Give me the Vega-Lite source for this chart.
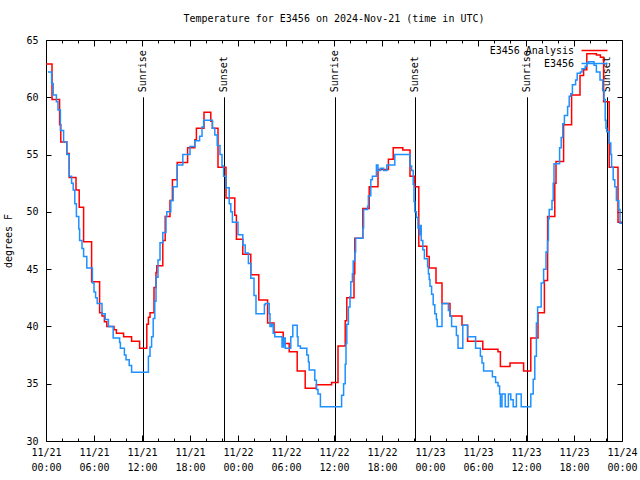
{
  "$schema": "https://vega.github.io/schema/vega-lite/v6.json",
  "width": 576,
  "height": 401,
  "autosize": "none",
  "padding": {"left": 46, "top": 40, "right": 18, "bottom": 39},
  "background": "white",
  "title": {"text": "Temperature for E3456 on 2024-Nov-21 (time in UTC)", "font": "DejaVu Sans Mono", "fontSize": 10, "fontWeight": "normal", "color": "black", "anchor": "middle", "offset": 11},
  "config": {
    "font": "DejaVu Sans Mono",
    "view": {"stroke": "black", "strokeWidth": 1},
    "axis": {"domain": false, "grid": false, "ticks": true, "tickColor": "black", "tickSize": -5, "labelFont": "DejaVu Sans Mono", "labelFontSize": 10, "labelColor": "black", "titleFont": "DejaVu Sans Mono", "titleFontSize": 10, "titleFontWeight": "normal", "titleColor": "black", "labelFlush": false, "labelOverlap": false, "labelBound": false}
  },
  "datasets": {
    "sun": [
      {"event": "Sunrise", "hour": 12.125},
      {"event": "Sunset", "hour": 22.25},
      {"event": "Sunrise", "hour": 36.125},
      {"event": "Sunset", "hour": 46.125},
      {"event": "Sunrise", "hour": 60.125},
      {"event": "Sunset", "hour": 70.125}
    ],
    "temps": [
      {"series": "E3456 Analysis", "hour": 0, "temp": 62.9},
      {"series": "E3456 Analysis", "hour": 0.75, "temp": 59.8},
      {"series": "E3456 Analysis", "hour": 1.7, "temp": 57.6},
      {"series": "E3456 Analysis", "hour": 1.85, "temp": 56.1},
      {"series": "E3456 Analysis", "hour": 2.6, "temp": 55.1},
      {"series": "E3456 Analysis", "hour": 2.9, "temp": 53.0},
      {"series": "E3456 Analysis", "hour": 3.75, "temp": 51.9},
      {"series": "E3456 Analysis", "hour": 4.15, "temp": 50.4},
      {"series": "E3456 Analysis", "hour": 4.7, "temp": 47.4},
      {"series": "E3456 Analysis", "hour": 5.7, "temp": 43.9},
      {"series": "E3456 Analysis", "hour": 6.7, "temp": 41.2},
      {"series": "E3456 Analysis", "hour": 7.0, "temp": 40.9},
      {"series": "E3456 Analysis", "hour": 7.3, "temp": 40.4},
      {"series": "E3456 Analysis", "hour": 7.6, "temp": 40.0},
      {"series": "E3456 Analysis", "hour": 8.5, "temp": 39.7},
      {"series": "E3456 Analysis", "hour": 8.8, "temp": 39.4},
      {"series": "E3456 Analysis", "hour": 9.7, "temp": 39.1},
      {"series": "E3456 Analysis", "hour": 10.7, "temp": 38.7},
      {"series": "E3456 Analysis", "hour": 11.7, "temp": 38.1},
      {"series": "E3456 Analysis", "hour": 12.6, "temp": 40.2},
      {"series": "E3456 Analysis", "hour": 12.8, "temp": 40.8},
      {"series": "E3456 Analysis", "hour": 13.0, "temp": 41.2},
      {"series": "E3456 Analysis", "hour": 13.5, "temp": 43.4},
      {"series": "E3456 Analysis", "hour": 13.75, "temp": 44.7},
      {"series": "E3456 Analysis", "hour": 13.85, "temp": 45.3},
      {"series": "E3456 Analysis", "hour": 14.6, "temp": 47.5},
      {"series": "E3456 Analysis", "hour": 14.9, "temp": 49.6},
      {"series": "E3456 Analysis", "hour": 15.5, "temp": 51.0},
      {"series": "E3456 Analysis", "hour": 15.8, "temp": 52.8},
      {"series": "E3456 Analysis", "hour": 16.4, "temp": 54.3},
      {"series": "E3456 Analysis", "hour": 17.7, "temp": 55.6},
      {"series": "E3456 Analysis", "hour": 18.6, "temp": 56.3},
      {"series": "E3456 Analysis", "hour": 18.8, "temp": 57.3},
      {"series": "E3456 Analysis", "hour": 19.75, "temp": 58.7},
      {"series": "E3456 Analysis", "hour": 20.6, "temp": 57.9},
      {"series": "E3456 Analysis", "hour": 20.8, "temp": 57.3},
      {"series": "E3456 Analysis", "hour": 21.5, "temp": 53.9},
      {"series": "E3456 Analysis", "hour": 22.5, "temp": 51.2},
      {"series": "E3456 Analysis", "hour": 23.6, "temp": 49.7},
      {"series": "E3456 Analysis", "hour": 23.8, "temp": 47.6},
      {"series": "E3456 Analysis", "hour": 24.6, "temp": 46.3},
      {"series": "E3456 Analysis", "hour": 25.6, "temp": 44.5},
      {"series": "E3456 Analysis", "hour": 26.6, "temp": 42.3},
      {"series": "E3456 Analysis", "hour": 27.7, "temp": 40.3},
      {"series": "E3456 Analysis", "hour": 28.5, "temp": 39.5},
      {"series": "E3456 Analysis", "hour": 29.65, "temp": 38.5},
      {"series": "E3456 Analysis", "hour": 30.4, "temp": 37.8},
      {"series": "E3456 Analysis", "hour": 31.4, "temp": 36.1},
      {"series": "E3456 Analysis", "hour": 32.4, "temp": 34.6},
      {"series": "E3456 Analysis", "hour": 33.8, "temp": 34.9},
      {"series": "E3456 Analysis", "hour": 35.7, "temp": 35.1},
      {"series": "E3456 Analysis", "hour": 36.5, "temp": 38.3},
      {"series": "E3456 Analysis", "hour": 37.4, "temp": 40.5},
      {"series": "E3456 Analysis", "hour": 37.6, "temp": 42.5},
      {"series": "E3456 Analysis", "hour": 38.5, "temp": 44.6},
      {"series": "E3456 Analysis", "hour": 38.6, "temp": 47.7},
      {"series": "E3456 Analysis", "hour": 39.6, "temp": 50.3},
      {"series": "E3456 Analysis", "hour": 40.4, "temp": 52.2},
      {"series": "E3456 Analysis", "hour": 41.5, "temp": 53.7},
      {"series": "E3456 Analysis", "hour": 42.8, "temp": 54.6},
      {"series": "E3456 Analysis", "hour": 43.4, "temp": 55.6},
      {"series": "E3456 Analysis", "hour": 44.6, "temp": 55.4},
      {"series": "E3456 Analysis", "hour": 45.5, "temp": 53.1},
      {"series": "E3456 Analysis", "hour": 46.1, "temp": 52.2},
      {"series": "E3456 Analysis", "hour": 46.6, "temp": 47.0},
      {"series": "E3456 Analysis", "hour": 47.6, "temp": 46.1},
      {"series": "E3456 Analysis", "hour": 47.9, "temp": 45.1},
      {"series": "E3456 Analysis", "hour": 48.75, "temp": 43.8},
      {"series": "E3456 Analysis", "hour": 49.5, "temp": 42.0},
      {"series": "E3456 Analysis", "hour": 50.5, "temp": 40.9},
      {"series": "E3456 Analysis", "hour": 52.0, "temp": 40.1},
      {"series": "E3456 Analysis", "hour": 52.7, "temp": 38.7},
      {"series": "E3456 Analysis", "hour": 54.6, "temp": 38.0},
      {"series": "E3456 Analysis", "hour": 56.5, "temp": 37.8},
      {"series": "E3456 Analysis", "hour": 56.8, "temp": 36.5},
      {"series": "E3456 Analysis", "hour": 58.0, "temp": 36.8},
      {"series": "E3456 Analysis", "hour": 59.7, "temp": 36.1},
      {"series": "E3456 Analysis", "hour": 60.6, "temp": 39.0},
      {"series": "E3456 Analysis", "hour": 61.5, "temp": 41.2},
      {"series": "E3456 Analysis", "hour": 62.3, "temp": 44.0},
      {"series": "E3456 Analysis", "hour": 62.7, "temp": 49.6},
      {"series": "E3456 Analysis", "hour": 63.6, "temp": 52.5},
      {"series": "E3456 Analysis", "hour": 63.75, "temp": 54.4},
      {"series": "E3456 Analysis", "hour": 64.7, "temp": 57.6},
      {"series": "E3456 Analysis", "hour": 65.7, "temp": 60.2},
      {"series": "E3456 Analysis", "hour": 66.75, "temp": 61.9},
      {"series": "E3456 Analysis", "hour": 67.2, "temp": 62.4},
      {"series": "E3456 Analysis", "hour": 67.6, "temp": 63.8},
      {"series": "E3456 Analysis", "hour": 68.8, "temp": 63.7},
      {"series": "E3456 Analysis", "hour": 69.3, "temp": 63.5},
      {"series": "E3456 Analysis", "hour": 69.7, "temp": 59.6},
      {"series": "E3456 Analysis", "hour": 70.4, "temp": 53.9},
      {"series": "E3456 Analysis", "hour": 71.5, "temp": 49.1},
      {"series": "E3456 Analysis", "hour": 72, "temp": 49.1},
      {"series": "E3456", "hour": 0.25, "temp": 62.2},
      {"series": "E3456", "hour": 0.7, "temp": 61.2},
      {"series": "E3456", "hour": 0.9, "temp": 60.2},
      {"series": "E3456", "hour": 1.3, "temp": 59.6},
      {"series": "E3456", "hour": 1.5, "temp": 58.9},
      {"series": "E3456", "hour": 1.8, "temp": 57.1},
      {"series": "E3456", "hour": 2.2, "temp": 56.1},
      {"series": "E3456", "hour": 2.6, "temp": 55.0},
      {"series": "E3456", "hour": 2.9, "temp": 53.1},
      {"series": "E3456", "hour": 3.2, "temp": 52.5},
      {"series": "E3456", "hour": 3.4, "temp": 51.9},
      {"series": "E3456", "hour": 3.6, "temp": 50.7},
      {"series": "E3456", "hour": 3.8, "temp": 49.6},
      {"series": "E3456", "hour": 4.1, "temp": 48.5},
      {"series": "E3456", "hour": 4.2, "temp": 47.5},
      {"series": "E3456", "hour": 4.5, "temp": 46.8},
      {"series": "E3456", "hour": 4.7, "temp": 46.1},
      {"series": "E3456", "hour": 5.1, "temp": 45.1},
      {"series": "E3456", "hour": 5.8, "temp": 43.8},
      {"series": "E3456", "hour": 6.0, "temp": 43.0},
      {"series": "E3456", "hour": 6.2, "temp": 42.5},
      {"series": "E3456", "hour": 6.4, "temp": 42.0},
      {"series": "E3456", "hour": 7.0, "temp": 41.1},
      {"series": "E3456", "hour": 7.4, "temp": 40.6},
      {"series": "E3456", "hour": 7.8, "temp": 40.0},
      {"series": "E3456", "hour": 8.4, "temp": 39.0},
      {"series": "E3456", "hour": 9.2, "temp": 38.6},
      {"series": "E3456", "hour": 9.3, "temp": 38.1},
      {"series": "E3456", "hour": 9.8, "temp": 37.5},
      {"series": "E3456", "hour": 10.0, "temp": 37.1},
      {"series": "E3456", "hour": 10.4, "temp": 36.6},
      {"series": "E3456", "hour": 10.7, "temp": 36.0},
      {"series": "E3456", "hour": 12.8, "temp": 37.4},
      {"series": "E3456", "hour": 13.0, "temp": 38.2},
      {"series": "E3456", "hour": 13.2, "temp": 39.1},
      {"series": "E3456", "hour": 13.4, "temp": 40.7},
      {"series": "E3456", "hour": 13.6, "temp": 42.2},
      {"series": "E3456", "hour": 13.75, "temp": 44.3},
      {"series": "E3456", "hour": 14.0, "temp": 45.8},
      {"series": "E3456", "hour": 14.25, "temp": 47.3},
      {"series": "E3456", "hour": 14.6, "temp": 48.2},
      {"series": "E3456", "hour": 15.0, "temp": 49.6},
      {"series": "E3456", "hour": 15.1, "temp": 50.0},
      {"series": "E3456", "hour": 15.6, "temp": 51.0},
      {"series": "E3456", "hour": 15.9, "temp": 52.2},
      {"series": "E3456", "hour": 16.4, "temp": 54.1},
      {"series": "E3456", "hour": 17.1, "temp": 55.0},
      {"series": "E3456", "hour": 18.0, "temp": 55.7},
      {"series": "E3456", "hour": 18.6, "temp": 56.2},
      {"series": "E3456", "hour": 19.2, "temp": 56.6},
      {"series": "E3456", "hour": 19.5, "temp": 57.4},
      {"series": "E3456", "hour": 19.7, "temp": 58.0},
      {"series": "E3456", "hour": 20.8, "temp": 57.3},
      {"series": "E3456", "hour": 21.1, "temp": 56.7},
      {"series": "E3456", "hour": 21.4, "temp": 55.8},
      {"series": "E3456", "hour": 21.75, "temp": 55.0},
      {"series": "E3456", "hour": 22.0, "temp": 54.0},
      {"series": "E3456", "hour": 22.2, "temp": 53.1},
      {"series": "E3456", "hour": 22.5, "temp": 52.1},
      {"series": "E3456", "hour": 22.9, "temp": 50.7},
      {"series": "E3456", "hour": 23.1, "temp": 50.0},
      {"series": "E3456", "hour": 23.3, "temp": 49.1},
      {"series": "E3456", "hour": 24.0, "temp": 48.0},
      {"series": "E3456", "hour": 24.6, "temp": 47.1},
      {"series": "E3456", "hour": 24.9, "temp": 46.4},
      {"series": "E3456", "hour": 25.3, "temp": 45.5},
      {"series": "E3456", "hour": 25.6, "temp": 44.2},
      {"series": "E3456", "hour": 26.0, "temp": 42.7},
      {"series": "E3456", "hour": 26.25, "temp": 41.1},
      {"series": "E3456", "hour": 27.3, "temp": 41.9},
      {"series": "E3456", "hour": 27.4, "temp": 42.0},
      {"series": "E3456", "hour": 27.9, "temp": 41.1},
      {"series": "E3456", "hour": 28.0, "temp": 40.0},
      {"series": "E3456", "hour": 28.2, "temp": 40.2},
      {"series": "E3456", "hour": 28.4, "temp": 39.4},
      {"series": "E3456", "hour": 28.6, "temp": 39.1},
      {"series": "E3456", "hour": 29.5, "temp": 38.2},
      {"series": "E3456", "hour": 29.7, "temp": 39.0},
      {"series": "E3456", "hour": 29.9, "temp": 38.1},
      {"series": "E3456", "hour": 30.6, "temp": 39.1},
      {"series": "E3456", "hour": 30.85, "temp": 40.1},
      {"series": "E3456", "hour": 31.4, "temp": 39.1},
      {"series": "E3456", "hour": 31.5, "temp": 38.3},
      {"series": "E3456", "hour": 31.8, "temp": 38.1},
      {"series": "E3456", "hour": 32.6, "temp": 37.5},
      {"series": "E3456", "hour": 32.8, "temp": 36.9},
      {"series": "E3456", "hour": 32.9, "temp": 36.2},
      {"series": "E3456", "hour": 33.6, "temp": 35.3},
      {"series": "E3456", "hour": 33.8, "temp": 34.5},
      {"series": "E3456", "hour": 34.0, "temp": 34.1},
      {"series": "E3456", "hour": 34.3, "temp": 33.0},
      {"series": "E3456", "hour": 36.75, "temp": 33.0},
      {"series": "E3456", "hour": 36.95, "temp": 34.0},
      {"series": "E3456", "hour": 37.2, "temp": 35.0},
      {"series": "E3456", "hour": 37.4, "temp": 36.7},
      {"series": "E3456", "hour": 37.5, "temp": 38.5},
      {"series": "E3456", "hour": 37.6, "temp": 40.2},
      {"series": "E3456", "hour": 37.8, "temp": 41.7},
      {"series": "E3456", "hour": 38.0, "temp": 42.6},
      {"series": "E3456", "hour": 38.1, "temp": 43.9},
      {"series": "E3456", "hour": 38.3, "temp": 44.6},
      {"series": "E3456", "hour": 38.4, "temp": 45.7},
      {"series": "E3456", "hour": 38.6, "temp": 46.5},
      {"series": "E3456", "hour": 38.7, "temp": 47.7},
      {"series": "E3456", "hour": 39.6, "temp": 48.6},
      {"series": "E3456", "hour": 39.7, "temp": 50.2},
      {"series": "E3456", "hour": 40.2, "temp": 50.5},
      {"series": "E3456", "hour": 40.3, "temp": 51.4},
      {"series": "E3456", "hour": 40.6, "temp": 52.8},
      {"series": "E3456", "hour": 40.8, "temp": 53.1},
      {"series": "E3456", "hour": 41.3, "temp": 54.1},
      {"series": "E3456", "hour": 41.5, "temp": 53.6},
      {"series": "E3456", "hour": 41.8, "temp": 53.8},
      {"series": "E3456", "hour": 42.2, "temp": 53.6},
      {"series": "E3456", "hour": 42.6, "temp": 54.1},
      {"series": "E3456", "hour": 43.6, "temp": 55.0},
      {"series": "E3456", "hour": 45.5, "temp": 54.0},
      {"series": "E3456", "hour": 45.7, "temp": 53.6},
      {"series": "E3456", "hour": 45.9, "temp": 52.4},
      {"series": "E3456", "hour": 46.0, "temp": 50.9},
      {"series": "E3456", "hour": 46.1, "temp": 50.0},
      {"series": "E3456", "hour": 46.3, "temp": 49.5},
      {"series": "E3456", "hour": 46.5, "temp": 48.6},
      {"series": "E3456", "hour": 46.7, "temp": 48.0},
      {"series": "E3456", "hour": 46.75, "temp": 48.8},
      {"series": "E3456", "hour": 46.9, "temp": 47.5},
      {"series": "E3456", "hour": 47.1, "temp": 46.7},
      {"series": "E3456", "hour": 47.3, "temp": 45.9},
      {"series": "E3456", "hour": 47.7, "temp": 45.2},
      {"series": "E3456", "hour": 47.8, "temp": 44.6},
      {"series": "E3456", "hour": 47.9, "temp": 44.1},
      {"series": "E3456", "hour": 48.0, "temp": 43.5},
      {"series": "E3456", "hour": 48.2, "temp": 42.8},
      {"series": "E3456", "hour": 48.4, "temp": 41.9},
      {"series": "E3456", "hour": 48.6, "temp": 41.1},
      {"series": "E3456", "hour": 48.8, "temp": 40.6},
      {"series": "E3456", "hour": 48.9, "temp": 40.0},
      {"series": "E3456", "hour": 49.5, "temp": 42.0},
      {"series": "E3456", "hour": 50.3, "temp": 41.4},
      {"series": "E3456", "hour": 50.5, "temp": 40.9},
      {"series": "E3456", "hour": 50.7, "temp": 40.0},
      {"series": "E3456", "hour": 51.3, "temp": 39.2},
      {"series": "E3456", "hour": 51.5, "temp": 38.1},
      {"series": "E3456", "hour": 52.1, "temp": 40.1},
      {"series": "E3456", "hour": 52.7, "temp": 39.1},
      {"series": "E3456", "hour": 53.7, "temp": 38.1},
      {"series": "E3456", "hour": 54.3, "temp": 37.4},
      {"series": "E3456", "hour": 54.5, "temp": 36.8},
      {"series": "E3456", "hour": 54.7, "temp": 36.1},
      {"series": "E3456", "hour": 55.8, "temp": 35.6},
      {"series": "E3456", "hour": 56.2, "temp": 35.1},
      {"series": "E3456", "hour": 56.5, "temp": 34.8},
      {"series": "E3456", "hour": 56.7, "temp": 34.1},
      {"series": "E3456", "hour": 56.8, "temp": 33.0},
      {"series": "E3456", "hour": 57.0, "temp": 34.1},
      {"series": "E3456", "hour": 57.4, "temp": 33.0},
      {"series": "E3456", "hour": 57.8, "temp": 34.1},
      {"series": "E3456", "hour": 58.1, "temp": 33.6},
      {"series": "E3456", "hour": 58.4, "temp": 33.0},
      {"series": "E3456", "hour": 58.8, "temp": 34.1},
      {"series": "E3456", "hour": 59.4, "temp": 33.0},
      {"series": "E3456", "hour": 60.6, "temp": 34.1},
      {"series": "E3456", "hour": 60.9, "temp": 35.4},
      {"series": "E3456", "hour": 61.1, "temp": 37.4},
      {"series": "E3456", "hour": 61.3, "temp": 40.3},
      {"series": "E3456", "hour": 61.45, "temp": 41.7},
      {"series": "E3456", "hour": 61.9, "temp": 43.8},
      {"series": "E3456", "hour": 62.2, "temp": 45.0},
      {"series": "E3456", "hour": 62.5, "temp": 46.5},
      {"series": "E3456", "hour": 62.7, "temp": 47.5},
      {"series": "E3456", "hour": 62.8, "temp": 49.4},
      {"series": "E3456", "hour": 62.9, "temp": 50.2},
      {"series": "E3456", "hour": 63.25, "temp": 51.0},
      {"series": "E3456", "hour": 63.4, "temp": 52.5},
      {"series": "E3456", "hour": 63.5, "temp": 54.2},
      {"series": "E3456", "hour": 64.2, "temp": 55.6},
      {"series": "E3456", "hour": 64.4, "temp": 56.5},
      {"series": "E3456", "hour": 64.6, "temp": 57.7},
      {"series": "E3456", "hour": 64.8, "temp": 58.4},
      {"series": "E3456", "hour": 65.2, "temp": 59.2},
      {"series": "E3456", "hour": 65.4, "temp": 60.1},
      {"series": "E3456", "hour": 65.6, "temp": 60.3},
      {"series": "E3456", "hour": 65.8, "temp": 61.1},
      {"series": "E3456", "hour": 66.2, "temp": 61.5},
      {"series": "E3456", "hour": 66.4, "temp": 62.1},
      {"series": "E3456", "hour": 66.8, "temp": 62.2},
      {"series": "E3456", "hour": 67.0, "temp": 62.5},
      {"series": "E3456", "hour": 67.4, "temp": 62.7},
      {"series": "E3456", "hour": 67.6, "temp": 63.0},
      {"series": "E3456", "hour": 67.8, "temp": 63.1},
      {"series": "E3456", "hour": 68.5, "temp": 62.8},
      {"series": "E3456", "hour": 68.8, "temp": 62.2},
      {"series": "E3456", "hour": 69.25, "temp": 61.5},
      {"series": "E3456", "hour": 69.6, "temp": 60.6},
      {"series": "E3456", "hour": 69.75, "temp": 59.8},
      {"series": "E3456", "hour": 69.9, "temp": 58.0},
      {"series": "E3456", "hour": 70.0, "temp": 57.3},
      {"series": "E3456", "hour": 70.1, "temp": 57.0},
      {"series": "E3456", "hour": 70.4, "temp": 56.0},
      {"series": "E3456", "hour": 70.6, "temp": 55.0},
      {"series": "E3456", "hour": 70.7, "temp": 53.9},
      {"series": "E3456", "hour": 70.9, "temp": 52.8},
      {"series": "E3456", "hour": 71.1, "temp": 52.2},
      {"series": "E3456", "hour": 71.3, "temp": 51.0},
      {"series": "E3456", "hour": 71.6, "temp": 50.2},
      {"series": "E3456", "hour": 71.75, "temp": 49.0},
      {"series": "E3456", "hour": 72, "temp": 49.0}
    ]
  },
  "layer": [
    {
      "data": {"name": "sun"},
      "mark": {"type": "rule", "color": "black", "strokeWidth": 1, "xOffset": 0.5},
      "encoding": {
        "x": {"field": "hour", "type": "quantitative", "scale": {"domain": [0, 72], "nice": false}, "axis": null},
        "y": {"datum": 30, "type": "quantitative", "scale": {"domain": [30, 65], "nice": false, "zero": false}, "axis": null},
        "y2": {"datum": 60}
      }
    },
    {
      "data": {"name": "sun"},
      "mark": {"type": "text", "angle": 270, "align": "left", "baseline": "middle", "dx": 5, "font": "DejaVu Sans Mono", "fontSize": 10, "color": "black"},
      "encoding": {
        "x": {"field": "hour", "type": "quantitative", "axis": null},
        "y": {"datum": 60, "type": "quantitative", "axis": null},
        "text": {"field": "event"}
      }
    },
    {
      "data": {"name": "temps"},
      "transform": [{"filter": "datum.series == 'E3456 Analysis'"}],
      "mark": {"type": "line", "interpolate": "step-after", "strokeWidth": 1.5},
      "encoding": {
        "x": {"field": "hour", "type": "quantitative", "axis": {"orient": "bottom", "title": null, "values": [0,2,4,6,8,10,12,14,16,18,20,22,24,26,28,30,32,34,36,38,40,42,44,46,48,50,52,54,56,58,60,62,64,66,68,70,72], "tickSize": {"condition": {"test": "datum.value % 6 == 0", "value": -6}, "value": -3}, "labelExpr": "datum.value % 6 == 0 ? ['11/' + (21 + floor(datum.value / 24)), (datum.value % 24 < 10 ? '0' : '') + (datum.value % 24) + ':00'] : ''", "labelPadding": 12, "labelLineHeight": 15, "labelBaseline": "top"}},
        "y": {"field": "temp", "type": "quantitative", "axis": {"orient": "left", "title": "degrees F", "values": [30,35,40,45,50,55,60,65], "labelPadding": 13, "titlePadding": 12}},
        "color": {"field": "series", "type": "nominal", "scale": {"domain": ["E3456 Analysis", "E3456"], "range": ["#ff0000", "#1e90ff"]}, "legend": {"orient": "none", "legendX": 541, "legendY": 3, "title": null, "symbolType": "M-2,0H2", "symbolSize": 169, "symbolStrokeWidth": 1.5, "labelAlign": "right", "labelOffset": -28, "labelFont": "DejaVu Sans Mono", "labelFontSize": 10, "labelColor": "black", "rowPadding": 0, "labelLimit": 300}}
      }
    },
    {
      "data": {"name": "temps"},
      "transform": [{"filter": "datum.series == 'E3456'"}],
      "mark": {"type": "line", "interpolate": "step-after", "strokeWidth": 1.5},
      "encoding": {
        "x": {"field": "hour", "type": "quantitative", "axis": {"orient": "top", "title": null, "labels": false, "values": [0,2,4,6,8,10,12,14,16,18,20,22,24,26,28,30,32,34,36,38,40,42,44,46,48,50,52,54,56,58,60,62,64,66,68,70,72], "tickSize": {"condition": {"test": "datum.value % 6 == 0", "value": -6}, "value": -3}}},
        "y": {"field": "temp", "type": "quantitative", "axis": {"orient": "right", "title": null, "labels": false, "values": [30,35,40,45,50,55,60,65]}},
        "color": {"field": "series", "type": "nominal"}
      }
    }
  ],
  "resolve": {"axis": {"x": "independent", "y": "independent"}}
}
